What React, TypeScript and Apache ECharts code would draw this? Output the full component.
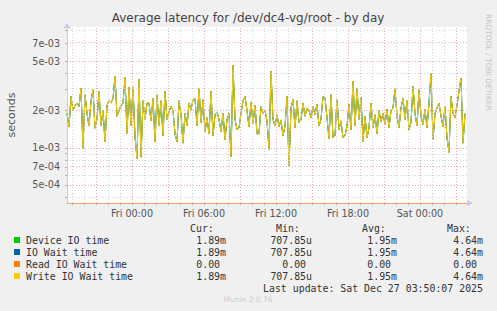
import React, { useEffect, useRef } from "react";
import * as echarts from "echarts";

// ---- data (values in milliseconds, 10-minute samples) ----
const sampleStartUtc = Date.UTC(2025, 11, 25, 18, 35);
const sampleStepMin = 10;
const xMinUtc = Date.UTC(2025, 11, 25, 18, 35);
const xMaxUtc = Date.UTC(2025, 11, 27, 3, 55);
const yMin = 3.575e-4;
const yMax = 9.49e-3;

const latencyMs = [
  1.9, 1.48, 2.6, 2.0, 2.2, 2.3, 2.15, 3.04, 0.99, 2.68,
  1.9, 1.5, 2.4, 2.95, 1.44, 1.7, 2.86, 1.5, 2.0, 1.12,
  2.2, 2.4, 2.3, 2.5, 3.78, 1.8, 2.0, 2.2, 2.3, 3.7,
  1.31, 3.1, 1.5, 3.1, 1.23, 0.82, 3.6, 0.84, 2.4, 1.7,
  2.3,
  2.3, 1.65, 2.5, 1.12, 2.68, 1.5, 2.4, 1.25, 2.86, 1.7,
  1.95, 2.16, 2.0, 1.3, 1.12, 2.4, 1.85, 1.09, 1.9, 1.5,
  2.3, 2.03, 2.45, 2.5, 1.5, 3.04, 1.6, 2.45, 1.35, 1.75,
  1.3, 2.86, 1.25, 1.85, 1.95, 1.7, 1.35, 1.9, 1.16, 1.7,
  1.9, 0.85, 4.64, 1.7, 1.4, 1.45, 1.9, 2.4, 2.6, 2.0,
  1.48, 2.35, 1.58, 2.2, 1.3, 1.3, 2.16, 1.9, 2.0, 1.65,
  0.97, 4.15, 1.7, 1.5, 1.85, 1.48, 1.68, 1.25, 1.5, 2.6,
  0.708, 2.1, 2.45, 1.45, 2.4, 1.6, 1.68, 2.3, 1.8, 2.1,
  2.0, 1.75, 2.15, 1.85, 2.25, 1.5, 1.7, 2.6, 2.55, 1.75,
  1.18, 2.7, 1.2, 1.25, 2.45, 1.4, 1.65, 1.2, 1.25, 1.5,
  2.25, 1.4, 3.45, 1.5, 3.0, 1.7, 2.55, 1.12, 1.8, 1.2,
  1.45, 2.3, 1.45, 1.85, 1.3, 2.0, 1.62, 1.9, 1.55, 2.05,
  1.45, 2.0, 2.1, 3.0, 1.8, 1.45, 2.1, 2.5, 1.7, 2.4,
  1.4, 1.6, 3.13, 1.9, 1.5, 2.95, 1.8, 1.55, 2.05, 1.45,
  2.3, 4.0, 1.16, 1.9, 2.1, 2.3, 1.8, 1.48, 2.15, 1.2,
  0.92, 2.6, 1.9, 1.75, 2.2, 2.9, 3.67, 1.09, 1.89,
];
const deviceIoTimeMs = latencyMs;
const ioWaitTimeMs = latencyMs;
const writeIoWaitTimeMs = latencyMs;

const yLabelValues = [5e-4, 7e-4, 1e-3, 2e-3, 5e-3, 7e-3];
const yMinorValues = [4e-4, 6e-4, 8e-4, 9e-4, 3e-3, 4e-3, 9e-3];
const xLabelTimes = [
  Date.UTC(2025, 11, 26, 0),
  Date.UTC(2025, 11, 26, 6),
  Date.UTC(2025, 11, 26, 12),
  Date.UTC(2025, 11, 26, 18),
  Date.UTC(2025, 11, 27, 0),
];

const legendNames = ["Device IO time", "IO Wait time", "Read IO Wait time", "Write IO Wait time"];
const legendColors = ["#00CC00", "#0066B3", "#FF8000", "#FFCC00"];
const curValues = ["1.89m", "1.89m", "0.00 ", "1.89m"];
const minValues = ["707.85u", "707.85u", "0.00 ", "707.85u"];
const avgValues = ["1.95m", "1.95m", "0.00 ", "1.95m"];
const maxValues = ["4.64m", "4.64m", "0.00 ", "4.64m"];

const DAYS = ["Sun", "Mon", "Tue", "Wed", "Thu", "Fri", "Sat"];
const MONO = '"DejaVu Sans Mono", monospace';
const SANS = '"DejaVu Sans", sans-serif';

function toSeries(values: number[]) {
  return values.map((v, i) => [sampleStartUtc + i * sampleStepMin * 60000, v / 1000]);
}

function fmtExp(v: number) {
  const e = Math.floor(Math.log10(v) + 1e-9);
  const m = Math.round(v / Math.pow(10, e));
  const sign = e < 0 ? "-" : "+";
  return `${m}e${sign}${String(Math.abs(e)).padStart(2, "0")}`;
}

export default function App() {
  const ref = useRef<HTMLDivElement>(null);
  useEffect(() => {
    if (!ref.current) return;
    const chart = echarts.init(ref.current, null, { renderer: "svg" });

    const hourly: number[] = [];
    for (let t = Date.UTC(2025, 11, 25, 19); t < xMaxUtc; t += 3600000) hourly.push(t);

    const minorStyle = { color: "#d2d2d2", type: [1, 2] as any, width: 1 };
    const majorStyle = { color: "#e6a8a8", type: [1, 2] as any, width: 1 };
    const gridLines: any[] = [];
    hourly.forEach((t) => {
      const major = new Date(t).getUTCHours() % 3 === 0;
      gridLines.push({ xAxis: t, lineStyle: major ? majorStyle : minorStyle });
    });
    // helper axis (index 1) is linear in log10 space, used only for grid lines
    yMinorValues.forEach((v) => gridLines.push({ yAxis: Math.log10(v), lineStyle: minorStyle }));
    yLabelValues.forEach((v) => gridLines.push({ yAxis: Math.log10(v), lineStyle: majorStyle }));

    const graphics: any[] = [];
    graphics.push({
      type: "text", x: 248, y: 18,
      style: { text: "Average latency for /dev/dc4-vg/root - by day", font: `12px ${SANS}`, fill: "#444", textAlign: "center", textVerticalAlign: "middle" },
    });
    graphics.push({
      type: "text", x: 488, y: 14, rotation: -Math.PI / 2,
      style: { text: "RRDTOOL / TOBI OETIKER", font: `7.5px ${SANS}`, fill: "#c4c4c4", textAlign: "left", textVerticalAlign: "middle" },
    });
    graphics.push({
      type: "text", x: 11, y: 115, rotation: Math.PI / 2,
      style: { text: "seconds", font: `11px ${SANS}`, fill: "#555", textAlign: "center", textVerticalAlign: "middle" },
    });
    graphics.push({
      type: "polygon", shape: { points: [[467, 200], [467, 206], [473, 203]] }, style: { fill: "#c8c8f0" },
    });
    const headY = 228;
    [["Cur:", 190], ["Min:", 276], ["Avg:", 362], ["Max:", 447]].forEach(([t, x]) =>
      graphics.push({ type: "text", x, y: headY, style: { text: t, font: `9.9px ${MONO}`, fill: "#333", textAlign: "left", textVerticalAlign: "middle" } })
    );
    legendNames.forEach((name, k) => {
      const y = 240 + 12 * k;
      graphics.push({ type: "rect", shape: { x: 14, y: y - 3, width: 6, height: 6 }, style: { fill: legendColors[k] } });
      graphics.push({ type: "text", x: 26, y, style: { text: name, font: `9.9px ${MONO}`, fill: "#333", textAlign: "left", textVerticalAlign: "middle" } });
      const cols: [string[], number][] = [[curValues, 226], [minValues, 312], [avgValues, 397], [maxValues, 483]];
      cols.forEach(([arr, x]) =>
        graphics.push({ type: "text", x, y, style: { text: arr[k], font: `9.9px ${MONO}`, fill: "#333", textAlign: "right", textVerticalAlign: "middle" } })
      );
    });
    graphics.push({
      type: "text", x: 483, y: 288,
      style: { text: "Last update: Sat Dec 27 03:50:07 2025", font: `9.9px ${MONO}`, fill: "#333", textAlign: "right", textVerticalAlign: "middle" },
    });
    graphics.push({
      type: "text", x: 248, y: 299.5,
      style: { text: "Munin 2.0.76", font: `7.5px ${SANS}`, fill: "#cccccc", textAlign: "center", textVerticalAlign: "middle" },
    });

    chart.setOption({
      animation: false,
      backgroundColor: "#F0F0F0",
      grid: { left: 67, right: 30, top: 27, bottom: 108, show: true, backgroundColor: "#ffffff", borderWidth: 0 },
      xAxis: {
        type: "value",
        min: xMinUtc,
        max: xMaxUtc,
        axisLine: { lineStyle: { color: "#F8A060", width: 1 } },
        axisTick: { show: true, customValues: hourly, length: 2, lineStyle: { color: "#d0a0a0" } },
        axisLabel: {
          customValues: xLabelTimes,
          margin: 5,
          fontSize: 9.6,
          fontFamily: SANS,
          color: "#555",
          formatter: (v: number) => {
            const d = new Date(v);
            return `${DAYS[d.getUTCDay()]} ${String(d.getUTCHours()).padStart(2, "0")}:${String(d.getUTCMinutes()).padStart(2, "0")}`;
          },
        },
        splitLine: { show: false },
      },
      yAxis: [
        {
          type: "log",
          logBase: 10,
          min: yMin,
          max: yMax,
          axisLine: { show: true, lineStyle: { color: "#c8c8f0" }, symbol: ["none", "arrow"], symbolSize: [6, 6], symbolOffset: [0, 4] },
          axisTick: { show: true, customValues: [...yLabelValues, ...yMinorValues], length: 2, lineStyle: { color: "#d0a0a0" } },
          axisLabel: {
            customValues: yLabelValues,
            margin: 7,
            fontSize: 9.6,
            fontFamily: SANS,
            color: "#555",
            formatter: (v: number) => fmtExp(v),
          },
          splitLine: { show: false },
          minorSplitLine: { show: false },
        },
        {
          type: "value",
          min: Math.log10(yMin),
          max: Math.log10(yMax),
          show: false,
          splitLine: { show: false },
        },
      ],
      graphic: graphics,
      series: [
        {
          type: "line",
          name: "grid",
          yAxisIndex: 1,
          data: [],
          z: 1,
          silent: true,
          markLine: { silent: true, symbol: ["none", "none"], label: { show: false }, data: gridLines, animation: false },
        },
        { type: "line", name: legendNames[0], data: toSeries(deviceIoTimeMs), showSymbol: false, z: 2, lineStyle: { color: legendColors[0], width: 1 }, itemStyle: { color: legendColors[0] } },
        { type: "line", name: legendNames[1], data: toSeries(ioWaitTimeMs), showSymbol: false, z: 3, lineStyle: { color: legendColors[1], width: 1 }, itemStyle: { color: legendColors[1] } },
        { type: "line", name: legendNames[3], data: toSeries(writeIoWaitTimeMs), showSymbol: false, z: 4, lineStyle: { color: legendColors[3], width: 1 }, itemStyle: { color: legendColors[3] } },
      ],
    });
    return () => chart.dispose();
  }, []);
  return <div ref={ref} style={{ position: "fixed", left: 0, top: 0, width: 497, height: 311 }} />;
}
